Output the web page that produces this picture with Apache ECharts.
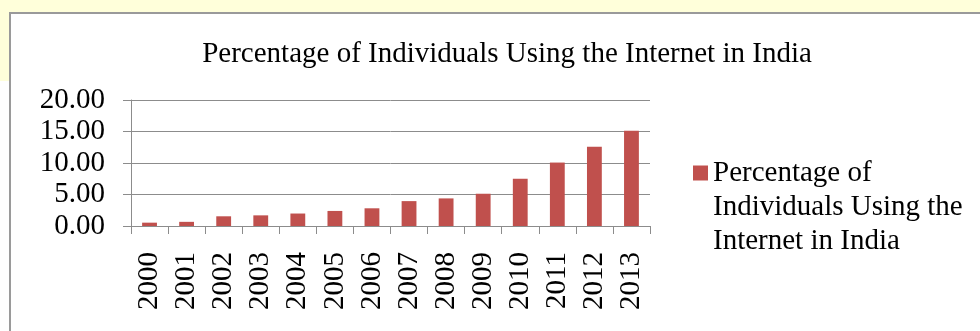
<!DOCTYPE html>
<html>
<head>
<meta charset="utf-8">
<script src="https://cdn.jsdelivr.net/npm/echarts@6/dist/echarts.min.js"></script>
<style>
  html, body { margin: 0; padding: 0; background: #ffffff; }
  #chart { width: 980px; height: 331px; }
</style>
</head>
<body>
<div id="chart"></div>
<script>
// Internet users in India, % of population
const years = ['2000', '2001', '2002', '2003', '2004', '2005', '2006',
               '2007', '2008', '2009', '2010', '2011', '2012', '2013'];
const usersPct = [0.53, 0.66, 1.54, 1.69, 1.98, 2.39, 2.81,
                  3.95, 4.38, 5.12, 7.50, 10.07, 12.58, 15.10];
const seriesName = 'Percentage of Individuals Using the Internet in India';
const legendLines = ['Percentage of', 'Individuals Using the', 'Internet in India'];

const FONT = '"Liberation Serif", "Times New Roman", serif';
const FS = 29;
const GRID = '#8c8c8c';

const chart = echarts.init(document.getElementById('chart'), null, { renderer: 'canvas' });

chart.setOption({
  animation: false,
  backgroundColor: '#ffffff',
  textStyle: { fontFamily: FONT },
  graphic: [
    // pale page background around the chart frame
    { type: 'rect', shape: { x: 0, y: 0, width: 980, height: 12 }, style: { fill: '#ffffda' }, silent: true },
    { type: 'rect', shape: { x: 0, y: 0, width: 9, height: 81 }, style: { fill: '#ffffda' }, silent: true },
    // chart frame
    { type: 'rect', shape: { x: 9, y: 12, width: 2, height: 319 }, style: { fill: '#9a9a9a' }, silent: true },
    { type: 'rect', shape: { x: 9, y: 12, width: 971, height: 2 }, style: { fill: '#9a9a9a' }, silent: true }
  ],
  title: {
    text: seriesName,
    left: 502,
    textAlign: 'center',
    top: 35,
    textStyle: { fontFamily: FONT, fontSize: FS, fontWeight: 'normal', color: '#000000' }
  },
  legend: {
    left: 693,
    top: 88,
    padding: 0,
    itemWidth: 15,
    itemHeight: 15,
    icon: 'rect',
    data: [seriesName],
    // two leading blank lines put the marker beside the first text line
    formatter: () => '\n\n' + legendLines.join('\n'),
    textStyle: {
      fontFamily: FONT, fontSize: FS, color: '#000000', lineHeight: 34
    }
  },
  grid: { left: 131, right: 330, top: 100, bottom: 105, containLabel: false },
  xAxis: {
    type: 'category',
    data: years,
    axisLine: { show: true, lineStyle: { color: GRID, width: 1 } },
    axisTick: { show: true, length: 8, lineStyle: { color: GRID } },
    axisLabel: {
      rotate: 90, margin: 26, interval: 0,
      fontFamily: FONT, fontSize: FS, color: '#000000'
    }
  },
  yAxis: {
    type: 'value',
    min: 0, max: 20, interval: 5,
    axisLine: { show: true, lineStyle: { color: GRID, width: 1 } },
    axisTick: { show: true, length: 8, lineStyle: { color: GRID } },
    splitLine: { show: true, lineStyle: { color: GRID, width: 1 } },
    axisLabel: {
      margin: 26,
      formatter: v => v.toFixed(2),
      fontFamily: FONT, fontSize: FS, color: '#000000'
    }
  },
  series: [{
    name: seriesName,
    type: 'bar',
    data: usersPct,
    barCategoryGap: '60%',
    itemStyle: { color: '#c0504d' }
  }]
});
</script>
</body>
</html>
